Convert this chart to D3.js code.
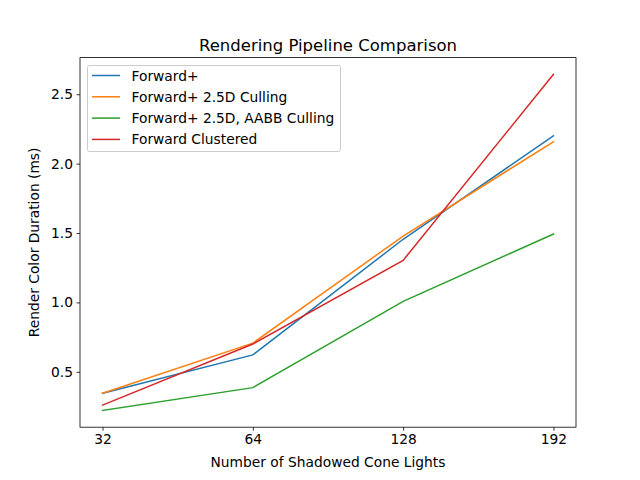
<!DOCTYPE html>
<html><head><meta charset="utf-8">
<script src="https://cdn.jsdelivr.net/npm/d3@7"></script>
<style>body{margin:0;background:#fff}svg{display:block}text{font-family:"DejaVu Sans",sans-serif}</style>
</head><body><svg id="c" width="640" height="480"></svg>
<script>
const categories = ["32", "64", "128", "192"];
const seriesNames = ["Forward+", "Forward+ 2.5D Culling", "Forward+ 2.5D, AABB Culling", "Forward Clustered"];
const forwardPlus = [0.345, 0.622, 1.455, 2.200];
const forwardPlus25D = [0.345, 0.707, 1.478, 2.158];
const forwardPlusAABB = [0.222, 0.386, 1.008, 1.493];
const forwardClustered = [0.260, 0.700, 1.303, 2.643];
const yTicks = [0.5, 1.0, 1.5, 2.0, 2.5];
const colors = ["#1f77b4", "#ff7f0e", "#2ca02c", "#d62728"];
const series = [forwardPlus, forwardPlus25D, forwardPlusAABB, forwardClustered];

const FS = 13.8, TFS = 16.5;
const svg = d3.select("#c");
const L = 80, R = 576, T = 57.6, B = 427.2;
const x = d3.scaleLinear().domain([-0.15, categories.length - 1 + 0.15]).range([L, R]);
const all = series.flat();
const mn = d3.min(all), mx = d3.max(all), pad = (mx - mn) * 0.05;
const y = d3.scaleLinear().domain([mn - pad, mx + pad]).range([B, T]);

const g = svg.append("g");
const line = d3.line().x((d, i) => x(i)).y(d => y(d));
series.forEach((s, k) => {
  g.append("path").datum(s).attr("d", line).attr("fill", "none")
    .attr("stroke", colors[k]).attr("stroke-width", 1.5).attr("stroke-linecap", "square");
});

const xAxis = d3.axisBottom(x).tickValues(d3.range(categories.length)).tickFormat(i => categories[i]).tickSize(3.5).tickPadding(3.5);
const yAxis = d3.axisLeft(y).tickValues(yTicks).tickFormat(d3.format(".1f")).tickSize(3.5).tickPadding(3.5);
const xa = svg.append("g").attr("transform", `translate(0,${B})`).call(xAxis);
const ya = svg.append("g").attr("transform", `translate(${L},0)`).call(yAxis);
[xa, ya].forEach(a => {
  a.select(".domain").remove();
  a.selectAll("line").attr("stroke", "#000").attr("stroke-width", 0.8);
  a.selectAll("text").attr("font-size", FS).attr("fill", "#000").style("font-family", "DejaVu Sans");
});
svg.append("rect").attr("x", L).attr("y", T).attr("width", R - L).attr("height", B - T)
  .attr("fill", "none").attr("stroke", "#000").attr("stroke-width", 0.8);

svg.append("text").attr("x", (L + R) / 2).attr("y", 50.5).attr("text-anchor", "middle")
  .attr("font-size", TFS).text("Rendering Pipeline Comparison");
svg.append("text").attr("x", (L + R) / 2).attr("y", 467).attr("text-anchor", "middle")
  .attr("font-size", FS).text("Number of Shadowed Cone Lights");
svg.append("text").attr("transform", `translate(39,${(T + B) / 2}) rotate(-90)`).attr("text-anchor", "middle")
  .attr("font-size", FS).text("Render Color Duration (ms)");

const lg = svg.append("g");
lg.append("rect").attr("x", 87.5).attr("y", 65.5).attr("width", 253).attr("height", 86).attr("rx", 2)
  .attr("fill", "#fff").attr("fill-opacity", 0.8).attr("stroke", "#cccccc").attr("stroke-width", 1);
seriesNames.forEach((n, k) => {
  const yy = 75.5 + k * 21.3;
  lg.append("line").attr("x1", 92).attr("x2", 120).attr("y1", yy).attr("y2", yy)
    .attr("stroke", colors[k]).attr("stroke-width", 1.5);
  lg.append("text").attr("x", 131.5).attr("y", yy + 5).attr("font-size", FS).text(n);
});
</script></body></html>
